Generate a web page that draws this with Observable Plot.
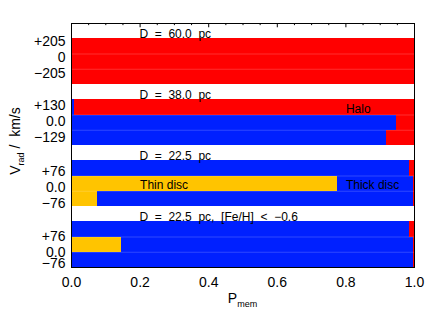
<!DOCTYPE html>
<html>
<head>
<meta charset="utf-8">
<script src="https://cdn.jsdelivr.net/npm/d3@7"></script>
<script src="https://cdn.jsdelivr.net/npm/@observablehq/plot@0.6"></script>
<style>
  html, body { margin: 0; padding: 0; background: #fff; }
  svg { font-family: "Liberation Sans", Arial, sans-serif; }
</style>
</head>
<body>
<div id="chart"></div>
<script>
// ---- data ----
const panelTitles = ["D = 60.0 pc", "D = 38.0 pc", "D = 22.5 pc", "D = 22.5 pc, [Fe/H] < \u22120.6"];
const rowLabels = ["+205", "0", "\u2212205", "+130", "0.0", "\u2212129", "+76", "0.0", "\u221276", "+76", "0.0", "\u221276"];
const labelPos = [1.16, 2.21, 3.30, 5.38, 6.41, 7.46, 9.69, 10.73, 11.78, 13.95, 15.02, 15.76];
const thinP  = [0, 0, 0,   0, 0, 0,         0, 0.776, 0.075,   0, 0.146, 0.003];
const thickP = [0, 0.004, 0, 0.010, 0.947, 0.917, 0.985, 0.222, 0.922, 0.986, 0.852, 0.994];
const haloP  = [1, 0.996, 1, 0.990, 0.053, 0.083, 0.015, 0.002, 0.003, 0.014, 0.002, 0.003];
const components = ["Thin disc", "Thick disc", "Halo"];
const compColors = ["#ffc400", "#0020ff", "#ff0000"];
const annotations = [
  {text: "Halo", x: 0.80, y: 5.64},
  {text: "Thin disc", x: 0.20, y: 10.62},
  {text: "Thick disc", x: 0.80, y: 10.62}
];
const xTicks = [0, 0.2, 0.4, 0.6, 0.8, 1.0];
const minorTicks = d3.range(1, 20).map(i => i * 0.05);

// ---- build rows ----
const rects = [];
const rowBounds = [];
for (let r = 0; r < 12; r++) {
  const p = Math.floor(r / 3), k = r % 3;
  const y1 = p * 4 + 1 + k, y2 = y1 + 1;
  const vals = [thinP[r], thickP[r], haloP[r]];
  let acc = 0;
  vals.forEach((v, i) => {
    if (v > 0) rects.push({x1: acc, x2: acc + v, y1, y2, comp: components[i]});
    acc += v;
  });
  if (k > 0) rowBounds.push(y1);
}
const sp = s => s.replace(/ /g, "\u00a0\u00a0");
const titles = panelTitles.map((t, p) => ({text: sp(t), y: p * 4 + 0.72}));
const labels = rowLabels.map((t, i) => ({text: t, y: labelPos[i]}));
const isMajor = d => Math.round(d * 100) % 20 === 0;

const W = 436, H = 312;
const plot = Plot.plot({
  width: W, height: H,
  marginLeft: 71, marginRight: 22, marginTop: 23, marginBottom: 45,
  style: {fontFamily: "Liberation Sans, Arial, sans-serif", background: "#fff", overflow: "visible"},
  x: {domain: [0, 1], axis: null},
  y: {domain: [0, 16], reverse: true, axis: null},
  color: {domain: components, range: compColors},
  marks: [
    Plot.rect(rects, {x1: "x1", x2: "x2", y1: "y1", y2: "y2", fill: "comp", shapeRendering: "crispEdges"}),
    Plot.ruleY(rowBounds, {stroke: "#fff", strokeOpacity: 0.18, strokeWidth: 1}),
    Plot.ruleX(minorTicks, {x: d => d, y1: 0, y2: d => (isMajor(d) ? 0.28 : 0.14), stroke: "#000"}),
    Plot.text(titles, {x: 0.198, y: "y", text: "text", textAnchor: "start", fontSize: 12, fill: "#000"}),
    Plot.text(annotations, {x: "x", y: "y", text: "text", textAnchor: "start", fontSize: 12, fill: "#000"}),
    Plot.text(labels, {x: 0, y: "y", text: "text", textAnchor: "end", dx: -6, fontSize: 14, fill: "#000"}),
    Plot.frame({stroke: "#000", strokeWidth: 1}),
    Plot.axisX({ticks: xTicks, tickSize: 0, tickPadding: 10, fontSize: 14, tickFormat: d3.format(".1f"), anchor: "bottom"})
  ]
});

// axis titles with subscripts
const svg = d3.select(plot);
const xs = plot.scale("x"), ys = plot.scale("y");
const cx = xs.apply(0.5);
const xt = svg.append("text")
  .attr("x", cx).attr("y", 303)
  .attr("text-anchor", "middle")
  .attr("font-size", 14).attr("fill", "#000");
xt.append("tspan").text("P");
xt.append("tspan").attr("font-size", 9).attr("dy", 4).text("mem");

const cy = 141;
const yt = svg.append("text")
  .attr("transform", `translate(20,${cy}) rotate(-90)`)
  .attr("text-anchor", "middle")
  .attr("font-size", 14).attr("fill", "#000");
yt.append("tspan").text("V");
yt.append("tspan").attr("font-size", 9).attr("dy", 4).text("rad");
yt.append("tspan").attr("dy", -4).text("\u00a0/\u00a0\u00a0km/s");

document.getElementById("chart").appendChild(plot);
</script>
</body>
</html>
